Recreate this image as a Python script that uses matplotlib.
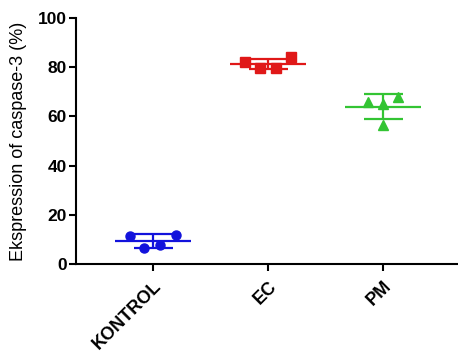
import numpy as np
import matplotlib
matplotlib.use("Agg")
import matplotlib.pyplot as plt

plt.rcParams['font.family'] = ['Liberation Sans', 'DejaVu Sans']

# Data
groups = ['KONTROL', 'EC', 'PM']
kontrol_vals = [11.4, 6.4, 7.7, 12.0]
ec_vals = [82.1, 79.7, 79.7, 84.1]
pm_vals = [66.0, 65.0, 68.0, 56.5]
y_ticks = [0, 20, 40, 60, 80, 100]

# Horizontal scatter offsets of the points within each group (x units)
kontrol_offsets = [-0.2, -0.08, 0.06, 0.2]
ec_offsets = [-0.2, -0.07, 0.07, 0.2]
pm_offsets = [-0.13, 0.0, 0.13, 0.0]

colors = ['#1212dc', '#e01818', '#33c433']
markers = ['o', 's', '^']


def main():
    fig = plt.figure(figsize=(4.58, 3.54), dpi=100)
    ax = fig.add_axes([0.166, 0.254, 0.834, 0.695])

    all_vals = [kontrol_vals, ec_vals, pm_vals]
    all_offsets = [kontrol_offsets, ec_offsets, pm_offsets]

    for i, (vals, offs) in enumerate(zip(all_vals, all_offsets)):
        x0 = i + 1
        vals = np.array(vals)
        mean = vals.mean()
        sd = vals.std(ddof=1)
        col = colors[i]

        # points
        ax.plot(x0 + np.array(offs), vals, linestyle='none', marker=markers[i],
                color=col, markersize=6.5, zorder=3, clip_on=False)

        # mean line
        ax.hlines(mean, x0 - 0.33, x0 + 0.33, color=col, lw=1.6, zorder=2)

        # SD error bar
        ax.vlines(x0, mean - sd, mean + sd, color=col, lw=1.6, zorder=2)
        ax.hlines([mean - sd, mean + sd], x0 - 0.17, x0 + 0.17, color=col, lw=1.6, zorder=2)

    ax.set_xlim(0.33, 3.65)
    ax.set_ylim(0, 100)
    ax.set_yticks(y_ticks)
    ax.set_yticklabels([str(v) for v in y_ticks], fontsize=12.5, fontweight='bold')
    ax.set_xticks([1, 2, 3])
    ax.set_xticklabels(groups, rotation=45, ha='right', rotation_mode='anchor',
                       fontsize=13, fontweight='bold')

    ax.set_ylabel('Ekspression of caspase-3 (%)', fontsize=13, labelpad=8)

    ax.spines['top'].set_visible(False)
    ax.spines['right'].set_visible(False)
    for s in ['left', 'bottom']:
        ax.spines[s].set_linewidth(1.5)
    ax.tick_params(axis='both', width=1.5, length=5)
    ax.tick_params(axis='y', pad=1.5)
    ax.tick_params(axis='x', pad=5)

    fig.savefig('out.png', dpi=100)


if __name__ == "__main__":
    main()
